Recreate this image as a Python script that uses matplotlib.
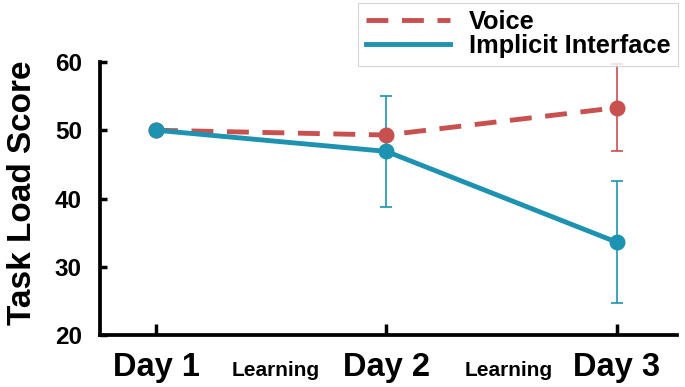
import matplotlib
matplotlib.use("Agg")
import matplotlib.pyplot as plt
import numpy as np
from matplotlib.lines import Line2D

plt.rcParams["font.family"] = ["Liberation Sans", "DejaVu Sans"]
plt.rcParams["font.weight"] = "bold"

# data
days = ["Day 1", "Day 2", "Day 3"]
between_labels = ["Learning", "Learning"]
between_pos = [0.52, 1.53]
voice_mean = [50.0, 49.3, 53.3]
voice_err = [np.nan, np.nan, 6.4]
implicit_mean = [50.0, 46.9, 33.6]
implicit_err = [np.nan, 8.1, 8.9]

red = "#c8504f"
blue = "#1d93b1"

x = np.arange(len(days))

fig = plt.figure(figsize=(6.85, 3.87), dpi=100)
ax = fig.add_axes([0.146, 0.134, 0.842, 0.706])

# error bars (thin) then the lines on top
ax.errorbar(x, voice_mean, yerr=voice_err, fmt="none", ecolor=red,
            elinewidth=1.2, capsize=4, capthick=1.2, zorder=2)
ax.errorbar(x, implicit_mean, yerr=implicit_err, fmt="none", ecolor=blue,
            elinewidth=1.2, capsize=4, capthick=1.2, zorder=2)

ax.plot(x, voice_mean, color=red, lw=3.5, ls=(0, (4.5, 2.8)),
        marker="o", markersize=10.5, label="Voice", zorder=3)
ax.plot(x, implicit_mean, color=blue, lw=3.5, marker="o", markersize=10.5,
        label="Implicit Interface", zorder=4)

ax.set_xlim(-0.243, 2.26)
ax.set_ylim(20, 60)
ax.set_yticks([20, 30, 40, 50, 60])
ax.set_xticks(x)
ax.set_xticklabels(days, fontsize=23.5, fontweight="bold")

for pos, lab in zip(between_pos, between_labels):
    ax.text(pos, -0.148, lab, transform=ax.get_xaxis_transform(),
            ha="center", va="baseline", fontsize=15, fontweight="bold")

ax.set_ylabel("Task Load Score", fontsize=24, fontweight="bold")
ax.yaxis.set_label_coords(-0.108, 0.52)

for s in ["top", "right"]:
    ax.spines[s].set_visible(False)
for s in ["left", "bottom"]:
    ax.spines[s].set_linewidth(2.7)

ax.tick_params(axis="y", direction="in", length=5, width=2.5, pad=13,
               labelsize=17.5)
ax.tick_params(axis="x", direction="in", length=8, width=2.5, pad=12)

# handles without markers in the legend
handles = [Line2D([], [], color=red, lw=3.5, ls=(0, (4.5, 2.8))),
           Line2D([], [], color=blue, lw=3.5)]
leg = fig.legend(handles, ["Voice", "Implicit Interface"],
                 loc="upper right", bbox_to_anchor=(0.99, 0.993),
                 fontsize=18.3, frameon=True, fancybox=False,
                 handlelength=3.3, handletextpad=0.75, labelspacing=0.0,
                 borderpad=0.3, borderaxespad=0)
leg.get_frame().set_edgecolor("#cccccc")
leg.get_frame().set_linewidth(0.8)
for t in leg.get_texts():
    t.set_fontweight("bold")

fig.savefig("out.png", dpi=100)
